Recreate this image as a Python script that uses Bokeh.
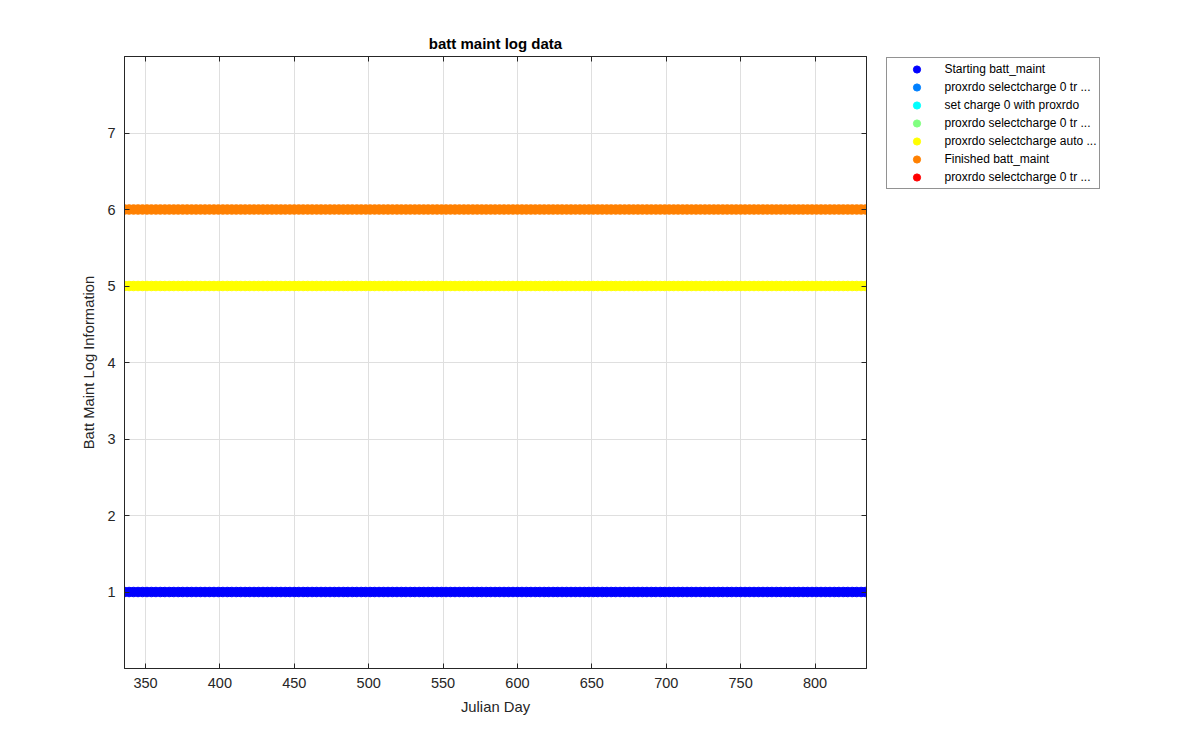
from bokeh.plotting import figure
from bokeh.models import Range1d, FixedTicker, LinearAxis, Legend, LegendItem, CustomJSTickFormatter
from bokeh.embed import file_html
from bokeh.resources import INLINE

NaN = float("nan")

# ---- data ----
days = [336, 339, 342, 345, 348, 351, 354, 357, 360, 363, 366, 369, 372, 375, 378, 381, 384, 387,
        390, 393, 396, 399, 402, 405, 408, 411, 414, 417, 420, 423, 426, 429, 432, 435, 438, 441,
        444, 447, 450, 453, 456, 459, 462, 465, 468, 471, 474, 477, 480, 483, 486, 489, 492, 495,
        498, 501, 504, 507, 510, 513, 516, 519, 522, 525, 528, 531, 534, 537, 540, 543, 546, 549,
        552, 555, 558, 561, 564, 567, 570, 573, 576, 579, 582, 585, 588, 591, 594, 597, 600, 603,
        606, 609, 612, 615, 618, 621, 624, 627, 630, 633, 636, 639, 642, 645, 648, 651, 654, 657,
        660, 663, 666, 669, 672, 675, 678, 681, 684, 687, 690, 693, 696, 699, 702, 705, 708, 711,
        714, 717, 720, 723, 726, 729, 732, 735, 738, 741, 744, 747, 750, 753, 756, 759, 762, 765,
        768, 771, 774, 777, 780, 783, 786, 789, 792, 795, 798, 801, 804, 807, 810, 813, 816, 819,
        822, 825, 828, 831, 834]
no_days = [NaN]   # series with no visible entries

series_names = ["Starting batt_maint",
                "proxrdo selectcharge 0 tr ...",
                "set charge 0 with proxrdo",
                "proxrdo selectcharge 0 tr ...",
                "proxrdo selectcharge auto ...",
                "Finished batt_maint",
                "proxrdo selectcharge 0 tr ..."]
series_levels = [1, 2, 3, 4, 5, 6, 7]
series_days = [days, no_days, no_days, no_days, days, days, no_days]

x_ticks = [350, 400, 450, 500, 550, 600, 650, 700, 750, 800]
y_ticks = [1, 2, 3, 4, 5, 6, 7]

# ---- styles ----
colors = ["#0000ff", "#0080ff", "#00ffff", "#80ff80", "#ffff00", "#ff8000", "#ff0000"]
FONT = "Liberation Sans"
AX = "#262626"

p = figure(frame_width=742, frame_height=612,
           x_range=Range1d(335.9, 834.6), y_range=Range1d(0, 8),
           output_backend="svg", toolbar_location=None,
           min_border_left=124, min_border_right=20,
           min_border_top=56, min_border_bottom=82,
           x_axis_label="Julian Day", y_axis_label="Batt Maint Log Information")

p.title.text = "batt maint log data"
p.title.align = "center"
p.title.text_font = FONT
p.title.text_font_size = "15px"
p.title.text_font_style = "bold"
p.title.text_color = "black"

p.outline_line_color = AX
p.outline_line_width = 1

p.xaxis.ticker = FixedTicker(ticks=x_ticks)
p.yaxis.ticker = FixedTicker(ticks=y_ticks)
p.xgrid.ticker = FixedTicker(ticks=x_ticks)
p.ygrid.ticker = FixedTicker(ticks=y_ticks)
p.grid.grid_line_color = "#dfdfdf"
p.grid.grid_line_width = 1

for ax in (p.xaxis[0], p.yaxis[0]):
    ax.axis_line_color = AX
    ax.major_tick_line_color = AX
    ax.major_tick_in = 5
    ax.major_tick_out = 0
    ax.minor_tick_line_color = None
    ax.major_label_text_font = FONT
    ax.major_label_text_font_size = "14.5px"
    ax.major_label_text_color = AX
    ax.axis_label_text_font = FONT
    ax.axis_label_text_font_size = "14.8px"
    ax.axis_label_text_font_style = "normal"
    ax.axis_label_text_color = AX
p.xaxis.major_label_standoff = 9
p.xaxis.axis_label_standoff = 8
p.yaxis.major_label_standoff = 9
p.yaxis.axis_label_standoff = 7

# mirrored ticks on top and right
top = LinearAxis(ticker=FixedTicker(ticks=x_ticks), formatter=CustomJSTickFormatter(code="return ''"))
right = LinearAxis(ticker=FixedTicker(ticks=y_ticks), formatter=CustomJSTickFormatter(code="return ''"))
for ax in (top, right):
    ax.axis_line_color = AX
    ax.major_tick_line_color = AX
    ax.major_tick_in = 5
    ax.major_tick_out = 0
    ax.minor_tick_line_color = None
    ax.major_label_text_font_size = "1px"
    ax.major_label_standoff = 0
p.add_layout(top, "above")
p.add_layout(right, "right")

items = []
for name, lvl, d, c in zip(series_names, series_levels, series_days, colors):
    r = p.scatter(x=d, y=[lvl] * len(d), size=9.5, fill_color=c, line_color=c, marker="circle")
    items.append(LegendItem(label=name, renderers=[r]))

legend = Legend(items=items, location=(-202, 479))
legend.border_line_color = AX
legend.border_line_width = 1
legend.background_fill_color = "white"
legend.background_fill_alpha = 1
legend.label_text_font = FONT
legend.label_text_font_size = "12px"
legend.label_text_color = "black"
legend.padding = 2
legend.spacing = 0
legend.glyph_height = 18
legend.label_height = 18
legend.glyph_width = 55
legend.label_standoff = 0
legend.margin = 0
p.add_layout(legend, "right")

open("out.html", "w").write(file_html(p, INLINE))
